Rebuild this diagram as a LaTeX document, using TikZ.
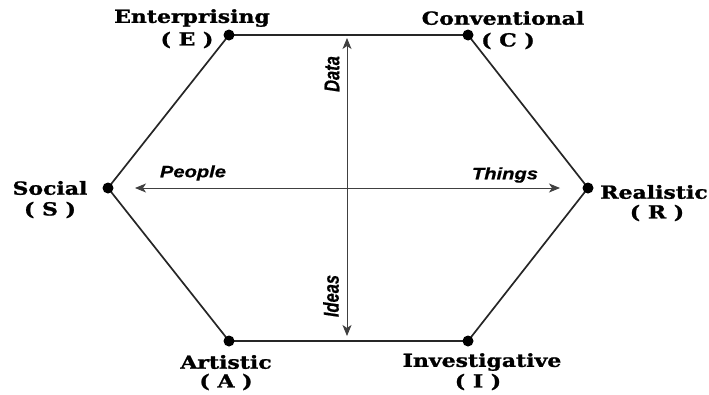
\documentclass[tikz,border=0pt]{standalone}
\usepackage{fontspec}
\usepackage{graphicx}
\setmainfont{DejaVu Serif}[BoldFeatures={FakeBold=1.2}]
\newfontfamily\axisfont{Liberation Sans}[BoldItalicFeatures={FakeBold=0.6}]
\usetikzlibrary{arrows.meta}
\newcommand{\wide}[1]{\scalebox{1.22}[1]{#1}}
\newcommand{\tall}[1]{\scalebox{1}[1.3]{#1}}
\tikzset{
  hexline/.style={line width=1.7pt, black!85},
  axisarrow/.style={line width=0.9pt, black!75, {Stealth[length=11pt,width=9pt,inset=3pt]}-{Stealth[length=11pt,width=9pt,inset=3pt]}},
  vertexdot/.style={circle, fill=black, inner sep=0pt, minimum size=11pt},
  typelabel/.style={font=\fontsize{18}{20}\selectfont\bfseries, inner sep=0pt},
  axislabel/.style={font=\axisfont\bfseries\itshape\fontsize{16.5}{18}\selectfont, inner sep=0pt}
}
\begin{document}
\begin{tikzpicture}[x=1pt,y=-1pt]
\useasboundingbox (0,0) rectangle (709,394);
% vertices
\coordinate (E) at (229,35);
\coordinate (C) at (468,35);
\coordinate (R) at (588,188);
\coordinate (I) at (468,341);
\coordinate (A) at (229,341);
\coordinate (S) at (108,188);
\draw[hexline] (E) -- (C) -- (R) -- (I) -- (A) -- (S) -- cycle;
\foreach \v in {E,C,R,I,A,S} \node[vertexdot] (d\v) at (\v) {};
% axes
\coordinate (top) at (347,38);
\coordinate (bot) at (347,336);
\coordinate (lft) at (135,188);
\coordinate (rgt) at (560,188);
\draw[axisarrow] (top) -- (bot);
\draw[axisarrow] (lft) -- (rgt);
% labels
\node[typelabel] (lE) at (192,18) {\wide{Enterprising}};
\node[typelabel] (lE2) at (187,40) {\wide{( E )}};
\node[typelabel] (lC) at (503,18) {\wide{Conventional}};
\node[typelabel] (lC2) at (508,41) {\wide{( C )}};
\node[typelabel] (lS) at (50,188) {\wide{Social}};
\node[typelabel] (lS2) at (50,210) {\wide{( S )}};
\node[typelabel] (lR) at (654,192) {\wide{Realistic}};
\node[typelabel] (lR2) at (657,213) {\wide{( R )}};
\node[typelabel] (lA) at (226,362) {\wide{Artistic}};
\node[typelabel] (lA2) at (226,382) {\wide{( A )}};
\node[typelabel] (lI) at (482,362) {\wide{Investigative}};
\node[typelabel] (lI2) at (478,382) {\wide{( I )}};
\node[axislabel] (people) at (193,173) {\wide{People}};
\node[axislabel] (things) at (505,175) {\wide{Things}};
\node[axislabel, rotate=90] (data) at (332,74) {\tall{Data}};
\node[axislabel, rotate=90] (ideas) at (331,296) {\tall{Ideas}};
\end{tikzpicture}
\end{document}
